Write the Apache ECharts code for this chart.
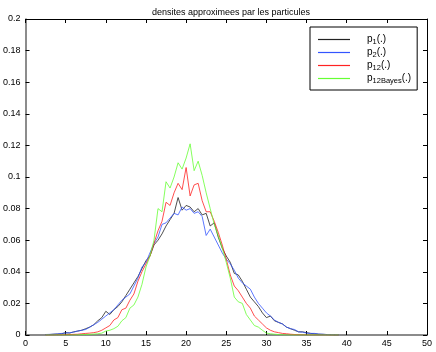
<!DOCTYPE html>
<html>
<head>
<meta charset="utf-8">
<script src="https://cdn.jsdelivr.net/npm/echarts@6/dist/echarts.min.js"></script>
<style>
  html, body { margin: 0; padding: 0; background: #fff; }
  #chart { width: 436px; height: 352px; }
</style>
</head>
<body>
<div id="chart"></div>
<script>
// abscisses communes (pas de 0.5)
var xs = [2.5, 3, 3.5, 4, 4.5, 5, 5.5, 6, 6.5, 7, 7.5, 8, 8.5, 9, 9.5, 10, 10.5, 11, 11.5, 12,
  12.5, 13, 13.5, 14, 14.5, 15, 15.5, 16, 16.5, 17, 17.5, 18, 18.5, 19, 19.5, 20, 20.5, 21, 21.5, 22,
  22.5, 23, 23.5, 24, 24.5, 25, 25.5, 26, 26.5, 27, 27.5, 28, 28.5, 29, 29.5, 30, 30.5, 31, 31.5, 32,
  32.5, 33, 33.5, 34, 34.5, 35, 35.5, 36, 36.5, 37, 37.5, 38, 38.5, 39];

var p1 = [0.0002, 0.0003, 0.0005, 0.0006, 0.0008, 0.0015, 0.0012, 0.002, 0.0025, 0.003, 0.004, 0.005, 0.0065, 0.009, 0.011, 0.015, 0.013, 0.016, 0.018, 0.021,
  0.025, 0.029, 0.033, 0.037, 0.042, 0.047, 0.05, 0.057, 0.06, 0.064, 0.069, 0.073, 0.077, 0.087, 0.079, 0.082, 0.081, 0.078, 0.080, 0.076,
  0.077, 0.069, 0.071, 0.062, 0.055, 0.05, 0.046, 0.039, 0.038, 0.034, 0.029, 0.024, 0.021, 0.018, 0.014, 0.011, 0.012, 0.009, 0.008, 0.007,
  0.005, 0.004, 0.003, 0.002, 0.002, 0.0015, 0.001, 0.0008, 0.0005, 0.0004, 0.0003, 0.0002, 0.0001, 0];

var p2 = [0.0003, 0.0004, 0.0005, 0.0007, 0.001, 0.0012, 0.0015, 0.0018, 0.0025, 0.003, 0.0035, 0.005, 0.0065, 0.008, 0.01, 0.012, 0.014, 0.016, 0.019, 0.022,
  0.024, 0.026, 0.031, 0.036, 0.043, 0.046, 0.052, 0.058, 0.062, 0.070, 0.071, 0.074, 0.077, 0.076, 0.081, 0.079, 0.080, 0.077, 0.078, 0.075,
  0.063, 0.067, 0.062, 0.057, 0.052, 0.048, 0.045, 0.041, 0.036, 0.033, 0.031, 0.029, 0.024, 0.020, 0.017, 0.014, 0.012, 0.0095, 0.008, 0.007,
  0.005, 0.004, 0.0035, 0.002, 0.0018, 0.0012, 0.001, 0.001, 0.0006, 0.0005, 0.0003, 0.0003, 0.0002, 0.0001];

var p12 = [0, 0, 0, 0.0001, 0.0001, 0.0002, 0.0003, 0.0004, 0.0005, 0.0008, 0.001, 0.0012, 0.0015, 0.002, 0.003, 0.0045, 0.006, 0.0095, 0.011, 0.016,
  0.017, 0.022, 0.026, 0.034, 0.04, 0.045, 0.05, 0.058, 0.066, 0.072, 0.084, 0.082, 0.090, 0.096, 0.092, 0.106, 0.088, 0.095, 0.096, 0.085,
  0.078, 0.078, 0.072, 0.065, 0.057, 0.048, 0.038, 0.031, 0.028, 0.024, 0.020, 0.017, 0.012, 0.0095, 0.007, 0.0045, 0.003, 0.002, 0.0015, 0.001,
  0.0008, 0.0005, 0.0003, 0.0002, 0.0001, 0.0001, 0, 0, 0, 0, 0, 0, 0, 0];

var p12Bayes = [0, 0, 0, 0, 0, 0, 0, 0, 0.0001, 0.0002, 0.0003, 0.0004, 0.0006, 0.0008, 0.0012, 0.0025, 0.003, 0.004, 0.0055, 0.009,
  0.011, 0.017, 0.019, 0.024, 0.032, 0.043, 0.050, 0.060, 0.080, 0.078, 0.097, 0.093, 0.100, 0.109, 0.105, 0.112, 0.121, 0.104, 0.110, 0.101,
  0.090, 0.080, 0.070, 0.063, 0.055, 0.046, 0.036, 0.024, 0.021, 0.020, 0.013, 0.0095, 0.006, 0.005, 0.003, 0.0012, 0.0008, 0.0005, 0.0003, 0.0001,
  0, 0, 0, 0, 0, 0, 0, 0, 0, 0, 0, 0, 0, 0];

var seriesNames = ['p1', 'p2', 'p12', 'p12Bayes'];
var seriesColors = ['#222222', '#3355ff', '#ff2222', '#66ff33'];
var seriesData = [p1, p2, p12, p12Bayes];
// indices affichés en légende
var legendSubs = { p1: '1', p2: '2', p12: '12', p12Bayes: '12Bayes' };

var FONT = '"Liberation Sans", Arial, Helvetica, sans-serif';

function pairs(ys) {
  return xs.map(function (x, i) { return [x, ys[i]]; });
}

var chart = echarts.init(document.getElementById('chart'), null, { renderer: 'canvas' });

var tickIn = { show: true, inside: true, length: 4, lineStyle: { color: '#000', width: 1 } };

var option = {
  backgroundColor: '#fff',
  animation: false,
  title: {
    text: 'densites approximees par les particules',
    left: 226,
    textAlign: 'center',
    top: 3,
    textStyle: { fontFamily: FONT, fontSize: 9, fontWeight: 'normal', color: '#000' }
  },
  grid: { left: 25, right: 9, top: 19, bottom: 17, containLabel: false },
  legend: {
    show: true,
    orient: 'vertical',
    left: 310,
    top: 27,
    padding: [6, 6, 5, 8],
    icon: 'rect',
    itemWidth: 32,
    itemHeight: 1.2,
    itemGap: 0,
    borderColor: '#000',
    borderWidth: 1,
    backgroundColor: '#fff',
    data: seriesNames,
    formatter: function (name) {
      return '{g|}{a|p}{s|' + legendSubs[name] + '}{a|(.)}';
    },
    textStyle: {
      fontFamily: FONT,
      fontSize: 10,
      color: '#000',
      rich: {
        g: { width: 12, height: 13, lineHeight: 13 },
        a: { fontFamily: FONT, fontSize: 10, color: '#000', lineHeight: 13, verticalAlign: 'middle' },
        s: { fontFamily: FONT, fontSize: 7.5, color: '#000', lineHeight: 13, verticalAlign: 'bottom' }
      }
    }
  },
  xAxis: [
    {
      type: 'value', min: 0, max: 50, interval: 5, position: 'bottom',
      axisLine: { show: true, onZero: false, lineStyle: { color: '#666', width: 1.5 } },
      axisTick: tickIn,
      axisLabel: { fontFamily: FONT, fontSize: 9, color: '#000', margin: 4 },
      splitLine: { show: false }
    },
    {
      type: 'value', min: 0, max: 50, interval: 5, position: 'top',
      axisLine: { show: true, onZero: false, lineStyle: { color: '#000', width: 1 } },
      axisTick: tickIn,
      axisLabel: { show: false },
      splitLine: { show: false }
    }
  ],
  yAxis: [
    {
      type: 'value', min: 0, max: 0.2, interval: 0.02, position: 'left',
      axisLine: { show: true, onZero: false, lineStyle: { color: '#666', width: 1.5 } },
      axisTick: tickIn,
      axisLabel: { fontFamily: FONT, fontSize: 9, color: '#000', margin: 5 },
      splitLine: { show: false }
    },
    {
      type: 'value', min: 0, max: 0.2, interval: 0.02, position: 'right',
      axisLine: { show: true, onZero: false, lineStyle: { color: '#000', width: 1 } },
      axisTick: tickIn,
      axisLabel: { show: false },
      splitLine: { show: false }
    }
  ],
  series: seriesNames.map(function (name, i) {
    return {
      name: name,
      type: 'line',
      xAxisIndex: 0,
      yAxisIndex: 0,
      data: pairs(seriesData[i]),
      symbol: 'none',
      itemStyle: { color: seriesColors[i] },
      lineStyle: { color: seriesColors[i], width: 0.8 }
    };
  })
};

chart.setOption(option);
</script>
</body>
</html>
